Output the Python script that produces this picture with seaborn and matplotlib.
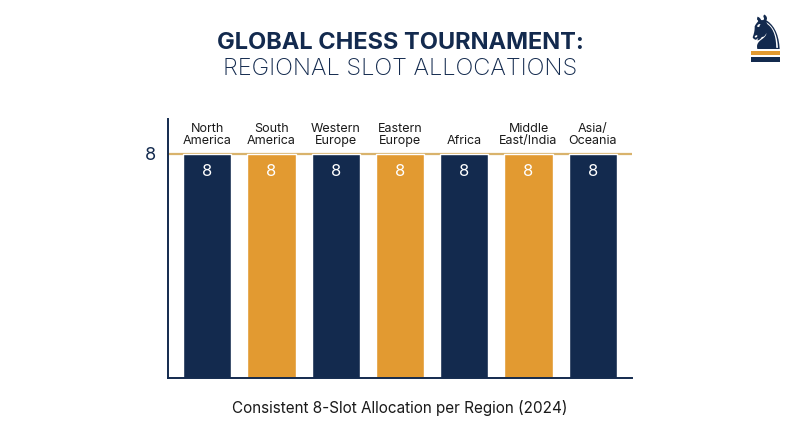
import matplotlib.pyplot as plt
import pandas as pd
import seaborn as sns
from matplotlib.patches import Rectangle

# Data
regions = ['North\nAmerica', 'South\nAmerica', 'Western\nEurope', 'Eastern\nEurope',
           'Africa', 'Middle\nEast/India', 'Asia/\nOceania']
slots = [8, 8, 8, 8, 8, 8, 8]
bar_colors = ['#132A4E', '#E29A31', '#132A4E', '#E29A31', '#132A4E', '#E29A31', '#132A4E']

NAVY = '#132A4E'
ORANGE = '#E29A31'
LINE = '#D9B36C'

df = pd.DataFrame({'region': regions, 'slots': slots})

sns.set_style('white')
plt.rcParams['font.family'] = ['Inter', 'DejaVu Sans']

fig = plt.figure(figsize=(8, 4.47), dpi=100)
ax = fig.add_axes([0.21, 0.1544, 0.58, 0.5794])

sns.barplot(data=df, x='region', y='slots', hue='region', palette=bar_colors,
            width=0.75, legend=False, saturation=1, ax=ax)

ax.axhline(8, color=LINE, lw=1.6, zorder=0.5)

# value labels inside bars
for cont in ax.containers:
  ax.bar_label(cont, labels=[f'{int(v)}' for v in cont.datavalues],
               label_type='edge', padding=-18, color='white', fontsize=12)

# region names above bars
for i, name in enumerate(regions):
  ax.text(i, 8.25, name, ha='center', va='bottom', fontsize=9,
          color='#1a1a1a', linespacing=1.05)

ax.set_xlim(-0.61, 6.61)
ax.set_ylim(0, 9.25)
ax.set_xticks([])
ax.set_yticks([8])
ax.set_yticklabels(['8'], fontsize=13, color=NAVY)
ax.tick_params(axis='y', length=0, pad=9)
ax.set_xlabel('')
ax.set_ylabel('')

for side in ['top', 'right']:
  ax.spines[side].set_visible(False)
for side in ['left', 'bottom']:
  ax.spines[side].set_color(NAVY)
  ax.spines[side].set_linewidth(1.4)

fig.text(0.5, 0.903, 'GLOBAL CHESS TOURNAMENT:', ha='center', va='center',
         fontsize=17, fontweight='bold', color=NAVY)
fig.text(0.5, 0.845, 'REGIONAL SLOT ALLOCATIONS', ha='center', va='center',
         fontsize=17, fontweight='light', color=NAVY)
fig.text(0.5, 0.088, 'Consistent 8-Slot Allocation per Region (2024)',
         ha='center', va='center', fontsize=11, color='#1a1a1a')

# knight icon
fig.text(0.957, 0.918, '\u265E', ha='center', va='center', fontsize=34,
         color=NAVY, family=['DejaVu Sans'])
fig.add_artist(Rectangle((0.939, 0.878), 0.036, 0.009, transform=fig.transFigure,
                         color=ORANGE, lw=0))
fig.add_artist(Rectangle((0.939, 0.862), 0.036, 0.010, transform=fig.transFigure,
                         color=NAVY, lw=0))

fig.savefig('out.png', dpi=100)
